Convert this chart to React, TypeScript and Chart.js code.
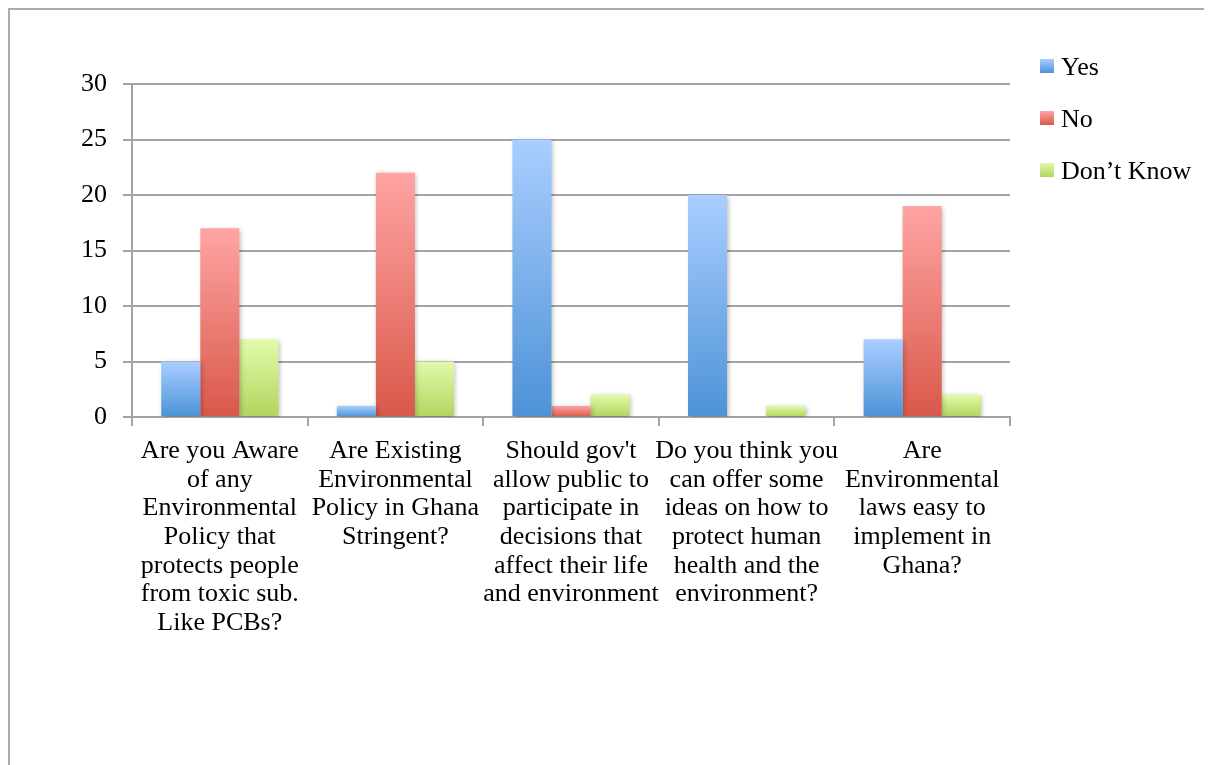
import React, { useEffect, useRef } from "react";
import { Chart, registerables } from "chart.js";

Chart.register(...registerables);

// Survey questions (x categories), one array of lines per question
const categories: string[][] = [
  ["Are you Aware", "of any", "Environmental", "Policy that", "protects people", "from toxic sub.", "Like PCBs?"],
  ["Are Existing", "Environmental", "Policy in Ghana", "Stringent?"],
  ["Should gov't", "allow public to", "participate in", "decisions that", "affect their life", "and environment"],
  ["Do you think you", "can offer some", "ideas on how to", "protect human", "health and the", "environment?"],
  ["Are", "Environmental", "laws easy to", "implement in", "Ghana?"],
];

const seriesNames = ["Yes", "No", "Don\u2019t Know"];
const yesValues = [5, 1, 25, 20, 7];
const noValues = [17, 22, 1, 0, 19];
const dontKnowValues = [7, 5, 2, 1, 2];

const yMin = 0;
const yMax = 30;
const yStep = 5;

// top / bottom colours of each series' vertical gradient
const seriesColors: [string, string][] = [
  ["#a9ceff", "#4d92d7"],
  ["#ffa4a3", "#d9584a"],
  ["#e1fbaa", "#b2d45e"],
];

const FONT = "'Liberation Serif', 'Times New Roman', serif";
const GRID = "#a3a3a3";

function barGradient(top: string, bottom: string) {
  return (ctx: any) => {
    const chart = ctx.chart;
    const y = chart.scales && chart.scales.y;
    if (ctx.type !== "data" || !y) return bottom;
    const v = ctx.raw as number;
    const yTop = y.getPixelForValue(v);
    const yBase = y.getPixelForValue(0);
    if (!isFinite(yTop) || !isFinite(yBase) || Math.abs(yBase - yTop) < 0.5) return bottom;
    const g = chart.ctx.createLinearGradient(0, yTop, 0, yBase);
    g.addColorStop(0, top);
    g.addColorStop(1, bottom);
    return g;
  };
}

// soft shadow behind the bars
const barShadow = {
  id: "barShadow",
  beforeDatasetsDraw(chart: any) {
    const c = chart.ctx;
    c.save();
    c.shadowColor = "rgba(0,0,0,0.28)";
    c.shadowBlur = 5;
    c.shadowOffsetX = 1.5;
    c.shadowOffsetY = 1.5;
  },
  afterDatasetsDraw(chart: any) {
    chart.ctx.restore();
  },
};

// legend to the right of the plot: gradient square + series name
const sideLegend = {
  id: "sideLegend",
  afterDraw(chart: any) {
    const c = chart.ctx;
    const area = chart.chartArea;
    const box = 14;
    const x0 = area.right + 30;
    const yStart = area.top - 18;
    const gap = 52;
    c.save();
    c.font = `26px ${FONT}`;
    c.textBaseline = "middle";
    c.textAlign = "left";
    seriesNames.forEach((name, i) => {
      const cy = yStart + i * gap;
      const [top, bottom] = seriesColors[i];
      const g = c.createLinearGradient(0, cy - box / 2, 0, cy + box / 2);
      g.addColorStop(0, top);
      g.addColorStop(1, bottom);
      c.fillStyle = g;
      c.fillRect(x0, cy - box / 2, box, box);
      c.fillStyle = "#000";
      c.fillText(name, x0 + box + 7, cy + 2);
    });
    c.restore();
  },
};

export default function App() {
  const canvasRef = useRef<HTMLCanvasElement | null>(null);

  useEffect(() => {
    document.documentElement.style.overflow = "hidden";
    document.body.style.overflow = "hidden";
    const canvas = canvasRef.current;
    if (!canvas) return;
    const values = [yesValues, noValues, dontKnowValues];
    const chart = new Chart(canvas, {
      type: "bar",
      data: {
        labels: categories,
        datasets: seriesNames.map((name, i) => ({
          label: name,
          data: values[i],
          backgroundColor: barGradient(seriesColors[i][0], seriesColors[i][1]),
          borderWidth: 0,
          barPercentage: 1,
          categoryPercentage: 0.667,
        })),
      },
      options: {
        animation: false,
        responsive: true,
        maintainAspectRatio: false,
        layout: { padding: { top: 74, right: 202, left: 0, bottom: 0 } },
        plugins: {
          legend: { display: false },
          tooltip: { enabled: false },
        },
        scales: {
          x: {
            offset: true,
            grid: {
              offset: true,
              drawOnChartArea: false,
              drawTicks: true,
              tickLength: 9,
              color: GRID,
              lineWidth: 2,
            },
            border: { display: true, color: GRID, width: 2 },
            ticks: {
              color: "#000",
              font: { family: FONT, size: 26, lineHeight: 1.1 },
              padding: 11,
              maxRotation: 0,
              autoSkip: false,
            },
            afterFit(scale: any) {
              scale.height = 348;
            },
          },
          y: {
            min: yMin,
            max: yMax,
            ticks: {
              stepSize: yStep,
              color: "#000",
              font: { family: FONT, size: 26 },
              padding: 16,
            },
            grid: {
              color: GRID,
              lineWidth: 2,
              tickLength: 9,
              drawTicks: true,
            },
            border: { display: true, color: GRID, width: 2 },
            afterFit(scale: any) {
              scale.width = 122;
            },
          },
        },
      },
      plugins: [barShadow, sideLegend],
    });
    return () => chart.destroy();
  }, []);

  return (
    <div
      style={{
        borderLeft: `2px solid #acacac`,
        borderTop: `2px solid #acacac`,
        width: 1260,
        height: 800,
      }}
    >
      <div style={{ position: "relative", width: 1202, height: 755 }}>
        <canvas ref={canvasRef} />
      </div>
    </div>
  );
}
